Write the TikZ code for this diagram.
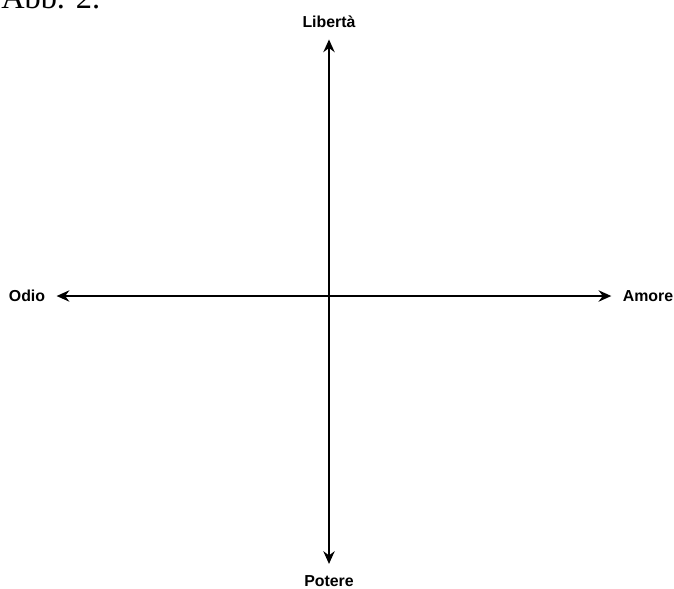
\documentclass[tikz,border=0pt]{standalone}
\usepackage{fontspec}
\setmainfont{Liberation Serif}
\setsansfont{Liberation Sans}
\usetikzlibrary{arrows.meta, positioning}

\begin{document}
\begin{tikzpicture}[x=0.025cm, y=-0.025cm,
    pole/.style={font=\sffamily\bfseries\fontsize{11.3}{13}\selectfont, inner sep=1pt},
    axis/.style={{Stealth[length=9pt,width=8pt]}-{Stealth[length=9pt,width=8pt]},
                 line width=1.9pt, shorten <=7pt, shorten >=7pt}
]
    \useasboundingbox (0,0) rectangle (674,588);

    \node[anchor=base west, inner sep=0pt, font=\fontsize{23}{26}\selectfont] (abb) at (1,8) {Abb. 2.};

    \node[pole] (liberta) at (329,22) {Libertà};
    \node[pole] (potere) at (329,581) {Potere};
    \node[pole] (odio) at (27,296) {Odio};
    \node[pole] (amore) at (648,296) {Amore};

    \draw[axis] (potere) -- (liberta);
    \draw[axis] (odio) -- (amore);
\end{tikzpicture}
\end{document}
